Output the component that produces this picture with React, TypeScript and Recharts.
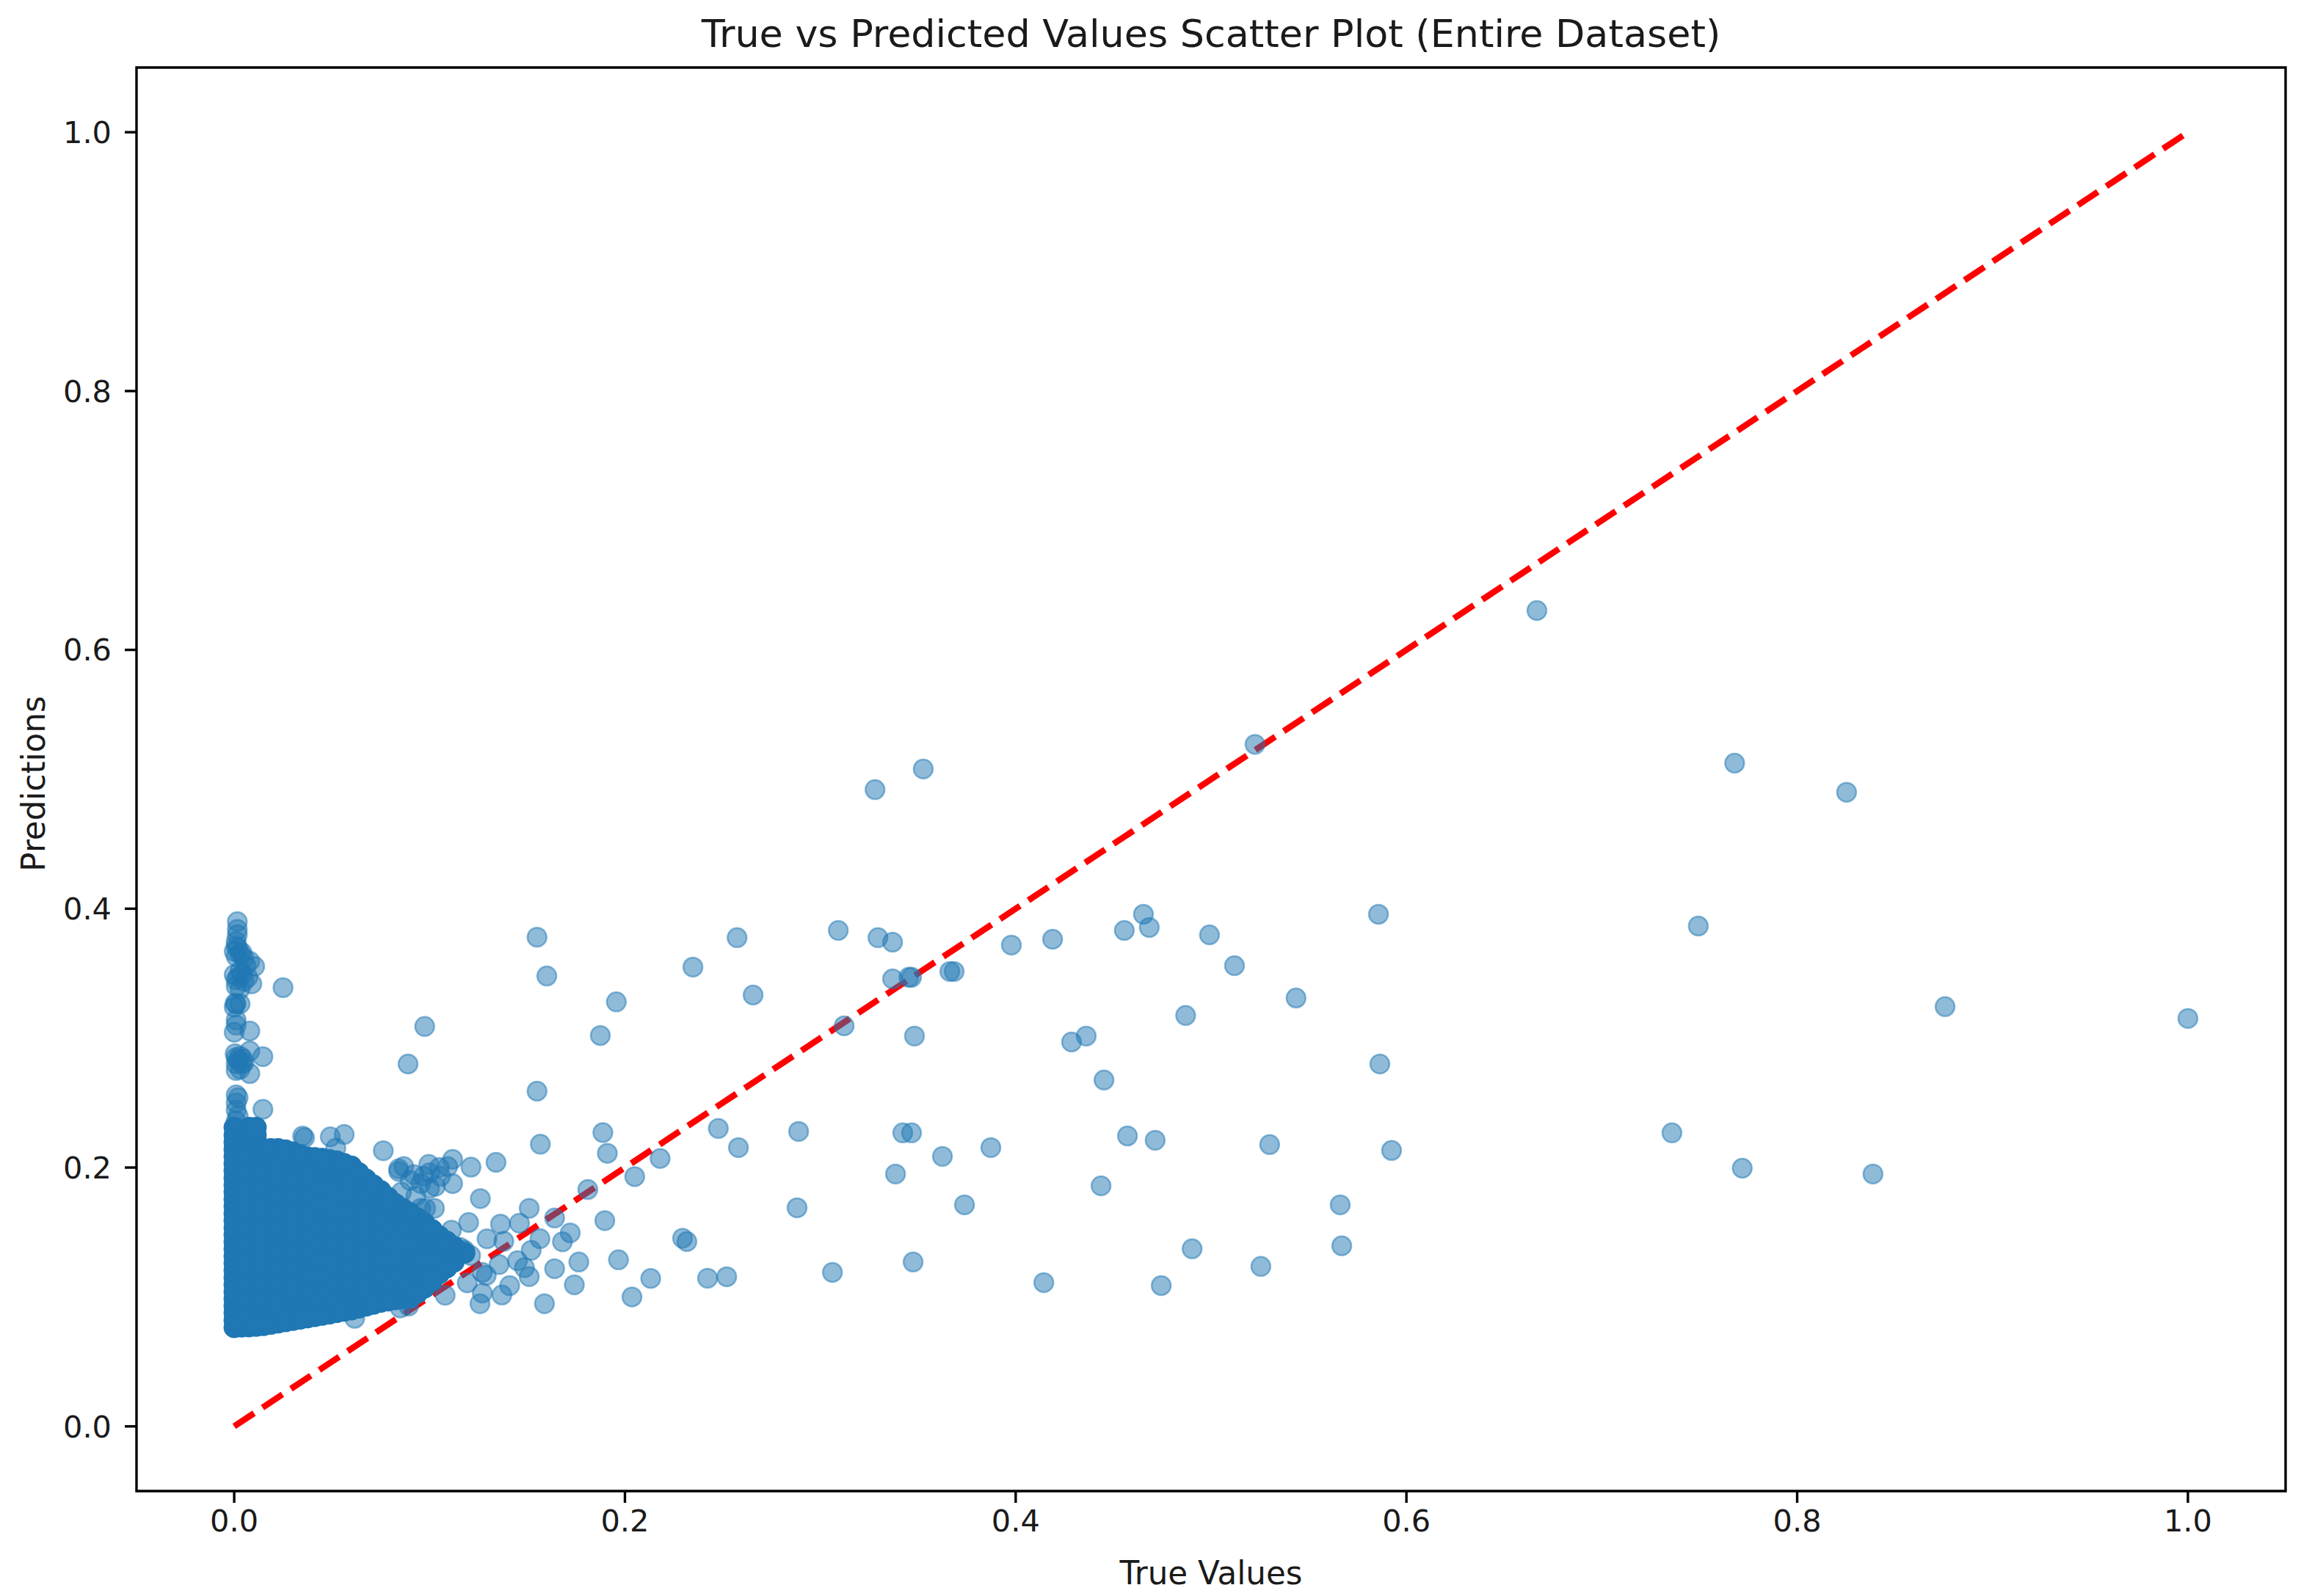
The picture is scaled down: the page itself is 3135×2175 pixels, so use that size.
import React from "react";
import {
  ScatterChart,
  Scatter,
  XAxis,
  YAxis,
  ReferenceLine,
  ReferenceArea,
} from "recharts";

const axisTicks = [0, 0.2, 0.4, 0.6, 0.8, 1];
const axisDomain = [-0.05, 1.05];
const idealLine = [
  { x: 0, y: 0 },
  { x: 1, y: 1 },
];

const cloudColumns: [number, number[]][] = [
  [0, [0.0765, 0.082, 0.0875, 0.093, 0.0985, 0.104, 0.1095, 0.115, 0.1205, 0.126, 0.1315, 0.137, 0.1425, 0.148, 0.1535, 0.159, 0.1645, 0.17, 0.1755, 0.181, 0.1865, 0.192, 0.1975, 0.203, 0.2085, 0.214, 0.2195, 0.225, 0.231]],
  [0.0075, [0.077, 0.088, 0.099, 0.11, 0.121, 0.132, 0.143, 0.154, 0.165, 0.176, 0.187, 0.198, 0.209, 0.22, 0.231]],
  [0.0112, [0.225, 0.231]],
  [0.015, [0.078, 0.089, 0.1, 0.111, 0.122, 0.133, 0.144, 0.155, 0.166, 0.177, 0.188, 0.199, 0.208, 0.2145]],
  [0.0225, [0.08, 0.091, 0.102, 0.113, 0.124, 0.135, 0.146, 0.157, 0.168, 0.179, 0.19, 0.201, 0.2145]],
  [0.03, [0.082, 0.093, 0.104, 0.115, 0.126, 0.137, 0.148, 0.159, 0.17, 0.181, 0.192, 0.203, 0.212]],
  [0.0375, [0.084, 0.095, 0.106, 0.117, 0.128, 0.139, 0.15, 0.161, 0.172, 0.183, 0.194, 0.208]],
  [0.045, [0.086, 0.097, 0.108, 0.119, 0.13, 0.141, 0.152, 0.163, 0.174, 0.185, 0.196, 0.207]],
  [0.0525, [0.088, 0.099, 0.11, 0.121, 0.132, 0.143, 0.154, 0.165, 0.176, 0.187, 0.198, 0.205]],
  [0.06, [0.09, 0.101, 0.112, 0.123, 0.134, 0.145, 0.156, 0.167, 0.178, 0.189, 0.201]],
  [0.0675, [0.093, 0.104, 0.115, 0.126, 0.137, 0.148, 0.159, 0.17, 0.181, 0.191]],
  [0.075, [0.096, 0.107, 0.118, 0.129, 0.14, 0.151, 0.162, 0.173, 0.182]],
  [0.0825, [0.098, 0.109, 0.12, 0.131, 0.142, 0.153, 0.164, 0.172]],
  [0.09, [0.099, 0.11, 0.121, 0.132, 0.143, 0.154, 0.165]],
  [0.0975, [0.107, 0.118, 0.129, 0.14, 0.149, 0.157]],
  [0.105, [0.118, 0.129, 0.14, 0.147]],
  [0.1125, [0.127, 0.139]],
];

// extra points along the cloud's rim, so its outline is not scalloped
const cloudRim: [number, number][] = [
  [0.00375, 0.0768], [0.01125, 0.0775], [0.01875, 0.079], [0.02625, 0.081], [0.03375, 0.083],
  [0.04125, 0.085], [0.04875, 0.087], [0.05625, 0.089], [0.06375, 0.0915], [0.07125, 0.0945],
  [0.07875, 0.097], [0.08625, 0.0985], [0.09375, 0.103], [0.10125, 0.1125], [0.10875, 0.1225],
  [0.01875, 0.2145], [0.02625, 0.2135], [0.03375, 0.21], [0.04125, 0.2075], [0.04875, 0.206],
  [0.05625, 0.203], [0.06375, 0.196], [0.07125, 0.1865], [0.07875, 0.177], [0.08625, 0.1685],
  [0.09375, 0.161], [0.10125, 0.152], [0.10875, 0.143], [0.1156, 0.135], [0.118, 0.134],
];

const spikePoints: [number, number][] = [
  [0.0016, 0.39], [0.0016, 0.384], [0.0016, 0.38], [0.001, 0.3746], [0.001, 0.371],
  [0, 0.367], [0.002, 0.369], [0.003, 0.365], [0.005, 0.362], [0.001, 0.363], [0.004, 0.366],
  [0.0105, 0.3554], [0.008, 0.3594], [0.006, 0.356], [0, 0.349], [0.001, 0.345], [0.003, 0.352],
  [0.002, 0.347], [0.005, 0.344], [0.001, 0.34], [0.003, 0.338], [0.007, 0.347], [0.009, 0.342],
  [0.004, 0.349], [0.001, 0.3265], [0.0005, 0.327], [0.003, 0.3265], [0, 0.324], [0.001, 0.314],
  [0.001, 0.31], [0, 0.3045], [0.008, 0.3055], [0.0005, 0.288], [0.001, 0.285], [0.003, 0.286],
  [0.0045, 0.284], [0.001, 0.28], [0.003, 0.276], [0.001, 0.275], [0.005, 0.281], [0.008, 0.29],
  [0.0147, 0.2857], [0.008, 0.2726], [0.002, 0.283], [0.004, 0.28], [0.001, 0.2562], [0.001, 0.25],
  [0.002, 0.254], [0.001, 0.2443], [0.002, 0.24], [0.001, 0.236], [0.0147, 0.245],
];

const fringePoints: [number, number][] = [
  [0.025, 0.339], [0.0975, 0.309], [0.089, 0.28], [0.035, 0.2243], [0.036, 0.223], [0.0492, 0.2237],
  [0.0563, 0.2255], [0.052, 0.215], [0.0763, 0.213], [0.0868, 0.2007], [0.0842, 0.199], [0.0842, 0.197],
  [0.0996, 0.2024], [0.1118, 0.2063], [0.1212, 0.2003], [0.134, 0.204], [0.1093, 0.2007], [0.1118, 0.1876],
  [0.1056, 0.1932], [0.0969, 0.1932], [0.0955, 0.1876], [0.103, 0.1855], [0.1, 0.184], [0.0856, 0.181],
  [0.093, 0.178], [0.1025, 0.1685], [0.098, 0.1685], [0.0955, 0.1685], [0.0893, 0.164], [0.126, 0.176],
  [0.09, 0.19], [0.105, 0.2], [0.1, 0.196], [0.092, 0.1945],
  [0.12, 0.1575], [0.1112, 0.1516], [0.1156, 0.1383], [0.118, 0.136], [0.121, 0.132], [0.1193, 0.1109],
  [0.108, 0.1013], [0.1258, 0.0948], [0.127, 0.103], [0.129, 0.1166], [0.127, 0.119], [0.0617, 0.0835],
  [0.0893, 0.093], [0.085, 0.0915], [0.1356, 0.125], [0.1363, 0.1563], [0.1294, 0.1449], [0.138, 0.143],
  [0.137, 0.1015], [0.141, 0.1087], [0.145, 0.128], [0.1486, 0.1226], [0.151, 0.1157], [0.146, 0.157],
  [0.151, 0.1685], [0.152, 0.136], [0.1565, 0.145], [0.164, 0.161], [0.168, 0.1426], [0.172, 0.1495],
  [0.164, 0.1218], [0.1764, 0.127], [0.1741, 0.1094], [0.1588, 0.0948],
];

const outlierPoints: [number, number][] = [
  [0.6668, 0.6304], [0.5225, 0.527], [0.328, 0.492], [0.3527, 0.508], [0.768, 0.5125], [0.8253, 0.49],
  [0.5857, 0.3957], [0.7494, 0.3866], [0.4654, 0.3957], [0.4684, 0.3855], [0.4556, 0.3832], [0.4992, 0.3798],
  [0.4189, 0.3764], [0.3978, 0.3719], [0.512, 0.356], [0.5435, 0.331], [0.487, 0.3175], [0.8757, 0.3243],
  [1, 0.3152], [0.4361, 0.3016], [0.4286, 0.297], [0.4452, 0.2676], [0.5864, 0.28], [0.3092, 0.3832],
  [0.3295, 0.3776], [0.337, 0.3741], [0.2574, 0.3776], [0.2348, 0.3549], [0.337, 0.3458], [0.3453, 0.347],
  [0.3467, 0.347], [0.3663, 0.3515], [0.3685, 0.3515], [0.2656, 0.3333], [0.3122, 0.3095], [0.3482, 0.3016],
  [0.155, 0.378], [0.16, 0.348], [0.1956, 0.328], [0.1874, 0.302], [0.155, 0.259], [0.1887, 0.227],
  [0.1567, 0.218], [0.191, 0.211], [0.218, 0.207], [0.205, 0.193], [0.181, 0.183], [0.1897, 0.159],
  [0.2478, 0.2302], [0.2581, 0.2154], [0.2889, 0.2279], [0.3422, 0.2268], [0.3467, 0.2268], [0.3385, 0.195],
  [0.3625, 0.2086], [0.3873, 0.2154], [0.4572, 0.2244], [0.4714, 0.2211], [0.4437, 0.1859], [0.53, 0.2177],
  [0.5924, 0.2132], [0.7359, 0.2268], [0.7719, 0.1995], [0.8388, 0.195], [0.2881, 0.1689], [0.3738, 0.1712],
  [0.5661, 0.1712], [0.5669, 0.1395], [0.4903, 0.1372], [0.5255, 0.1236], [0.3475, 0.127], [0.3062, 0.119],
  [0.4144, 0.1111], [0.4745, 0.1088], [0.2423, 0.1145], [0.2521, 0.1156], [0.2295, 0.1454], [0.2317, 0.1428],
  [0.1967, 0.1287], [0.2132, 0.1143], [0.2036, 0.1],
];

const toRows = (points: [number, number][]) => points.map(([x, y]) => ({ x, y }));
const cloudRows = [
  ...cloudColumns.flatMap(([x, ys]) => ys.map((y) => ({ x, y }))),
  ...toRows(cloudRim),
];

const FONT = "'DejaVu Sans', sans-serif";
const BLUE = "#1f77b4";
const TEXT = "#1a1a1a";

const tickStyle = { fontFamily: FONT, fontSize: 41.5, fill: TEXT };
const labelStyle = { fontFamily: FONT, fontSize: 43.6, fill: TEXT };

const CloudDot = (props: any) => <circle cx={props.cx} cy={props.cy} r={14.5} fill={BLUE} />;

const PointDot = (props: any) => (
  <circle
    cx={props.cx}
    cy={props.cy}
    r={13}
    fill={BLUE}
    fillOpacity={0.5}
    stroke={BLUE}
    strokeOpacity={0.5}
    strokeWidth={2.5}
  />
);

export default function App() {
  return (
    <div style={{ position: "absolute", left: 0, top: 0, width: 3135, height: 2175, background: "white" }}>
      <div
        style={{
          position: "absolute",
          left: 186,
          width: 2928,
          top: 14,
          textAlign: "center",
          fontFamily: FONT,
          fontSize: 52.3,
          lineHeight: "64px",
          color: TEXT,
        }}
      >
        True vs Predicted Values Scatter Plot (Entire Dataset)
      </div>
      <ScatterChart
        width={3135}
        height={2175}
        margin={{ top: 92, right: 21, bottom: 0, left: 0 }}
      >
        <XAxis
          type="number"
          dataKey="x"
          domain={axisDomain}
          ticks={axisTicks}
          tickFormatter={(v: number) => v.toFixed(1)}
          height={143}
          tick={tickStyle}
          tickSize={16}
          tickMargin={10}
          tickLine={{ stroke: "#000", strokeWidth: 3.4 }}
          axisLine={false}
          label={{ value: "True Values", position: "insideBottom", offset: 16, style: labelStyle }}
        />
        <YAxis
          type="number"
          dataKey="y"
          domain={axisDomain}
          ticks={axisTicks}
          tickFormatter={(v: number) => v.toFixed(1)}
          width={186}
          tick={tickStyle}
          tickSize={16}
          tickMargin={18}
          tickLine={{ stroke: "#000", strokeWidth: 3.4 }}
          axisLine={false}
          label={{ value: "Predictions", angle: -90, position: "insideLeft", offset: 46, dy: 6, style: { ...labelStyle, textAnchor: "middle" } }}
        />
        <Scatter data={cloudRows} shape={CloudDot} isAnimationActive={false} />
        <Scatter
          data={[...toRows(spikePoints), ...toRows(fringePoints), ...toRows(outlierPoints)]}
          shape={PointDot}
          isAnimationActive={false}
        />
        <ReferenceLine
          segment={idealLine}
          stroke="#ff0000"
          strokeWidth={8.5}
          strokeDasharray="32.45 13.91"
        />
        <ReferenceArea
          x1={axisDomain[0]}
          x2={axisDomain[1]}
          y1={axisDomain[0]}
          y2={axisDomain[1]}
          fill="none"
          stroke="#000"
          strokeWidth={3.4}
        />
      </ScatterChart>
    </div>
  );
}
